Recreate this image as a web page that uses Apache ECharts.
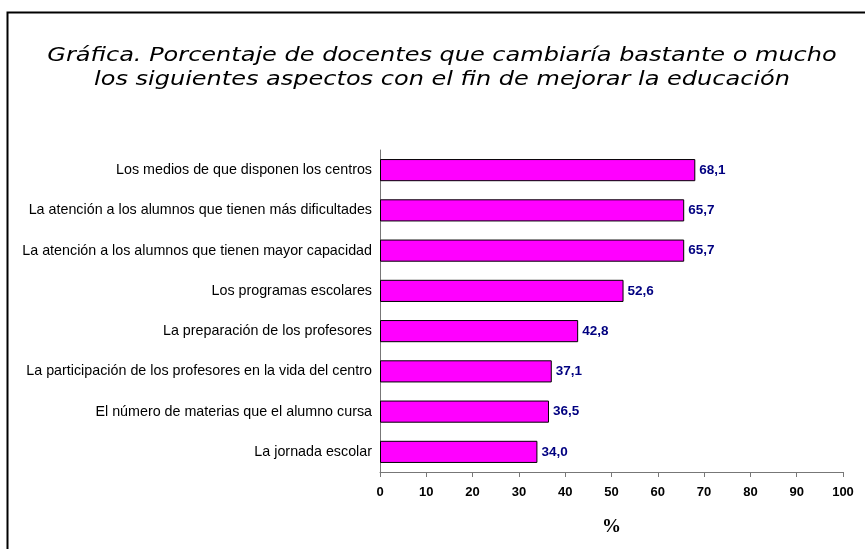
<!DOCTYPE html>
<html><head><meta charset="utf-8">
<script src="https://cdn.jsdelivr.net/npm/echarts@6/dist/echarts.min.js"></script>
<style>html,body{margin:0;padding:0;background:#fff}#c{width:865px;height:549px}</style>
</head><body><div id="c"></div>
<script>
const titleText = "Gráfica. Porcentaje de docentes que cambiaría bastante o mucho\nlos siguientes aspectos con el fin de mejorar la educación";
const categories = [
  "Los medios de que disponen los centros",
  "La atención a los alumnos que tienen más dificultades",
  "La atención a los alumnos que tienen mayor capacidad",
  "Los programas escolares",
  "La preparación de los profesores",
  "La participación de los profesores en la vida del centro",
  "El número de materias que el alumno cursa",
  "La jornada escolar"
];
const values = [68.1, 65.7, 65.7, 52.6, 42.8, 37.1, 36.5, 34.0];
const axisName = "%";

const chart = echarts.init(document.getElementById('c'));
chart.setOption({
  animation: false,
  backgroundColor: '#fff',
  graphic: [{
    type: 'rect', left: 5, top: 10, shape: {width: 900, height: 600},
    style: {fill: 'none', stroke: '#000', lineWidth: 2}, silent: true, z: -1
  }, {
    type: 'text', x: 442, y: 68, scaleX: 1.2, silent: true,
    style: {
      text: titleText, fill: '#000', align: 'center', verticalAlign: 'middle',
      font: 'italic normal 20px "DejaVu Sans"', lineHeight: 24
    }
  }],
  grid: {left: 380, right: 22, top: 150, bottom: 77, containLabel: false},
  xAxis: {
    type: 'value', min: 0, max: 100, interval: 10,
    name: axisName, nameLocation: 'middle', nameGap: 46,
    nameTextStyle: {fontFamily: 'Liberation Serif, Times New Roman', fontWeight: 'bold', fontSize: 19, color: '#000'},
    axisLine: {show: true, lineStyle: {color: '#777', width: 1}},
    axisTick: {show: true, length: 5, lineStyle: {color: '#777'}},
    splitLine: {show: false},
    axisLabel: {fontFamily: 'Liberation Sans, Arial', fontWeight: 'bold', fontSize: 13, color: '#000', margin: 14}
  },
  yAxis: {
    type: 'category', data: categories, inverse: true,
    axisLine: {show: true, lineStyle: {color: '#777', width: 1}},
    axisTick: {show: false},
    axisLabel: {fontFamily: 'Liberation Sans, Arial', fontSize: 14.3, color: '#000', margin: 8}
  },
  series: [{
    type: 'bar', data: values, barCategoryGap: '45%',
    itemStyle: {color: '#FF00FF', borderColor: '#000', borderWidth: 1},
    label: {
      show: true, position: 'right', distance: 4,
      formatter: p => p.value.toFixed(1).replace('.', ','),
      fontFamily: 'Liberation Sans, Arial', fontWeight: 'bold', fontSize: 13.5, color: '#000080'
    }
  }]
});
</script></body></html>
